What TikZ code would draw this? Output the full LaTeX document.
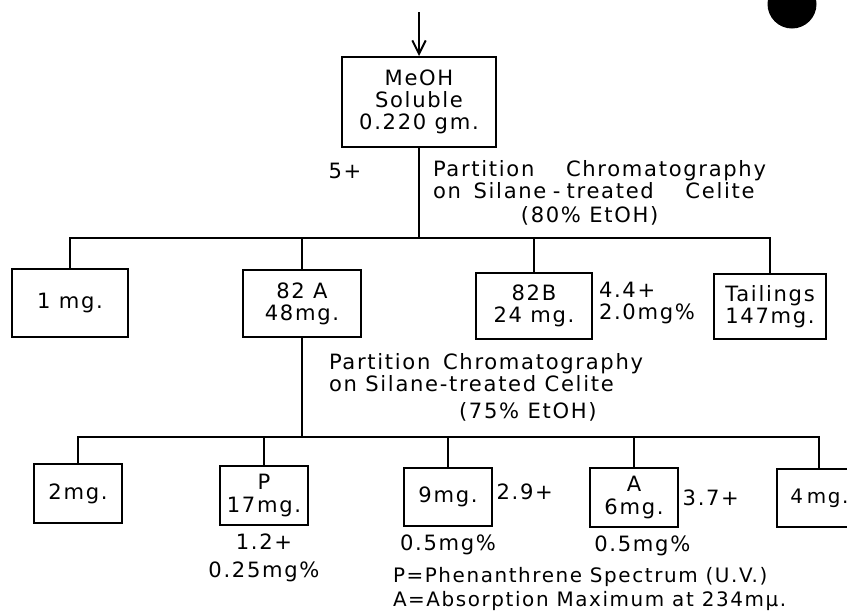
\documentclass[tikz,border=0pt]{standalone}
\usepackage{fontspec}
\setmainfont{DejaVu Sans}[LetterSpace=8]
\usetikzlibrary{arrows.meta, positioning}

\begin{document}
\begin{tikzpicture}[
    x=0.03cm, y=-0.03cm,
    line width=1.7pt,
    every node/.style={font=\fontsize{18}{19}\selectfont, inner sep=0pt},
    fracbox/.style={rectangle, draw, line width=1.7pt, align=center},
    note/.style={align=left},
    arrow/.style={-{Straight Barb[length=4mm, width=4mm]}, line width=1.7pt}
]
\clip (0,0) rectangle (847,611);

% starting fraction
\coordinate (feed) at (419,12);
\node[fracbox, minimum width=4.62cm, minimum height=2.7cm] (meoh) at (419,102) {MeOH\\Soluble\\0.220 gm.};
\draw[arrow] (feed) -- (meoh);

% first partition
\node at (345,171) (fivep) {5+};
\node[note, anchor=north west] (part1) at (432,159) {Partition\hspace{1.5em}Chromatography\\on\hspace{0.6em}Silane\hspace{0.3em}-\hspace{0.3em}treated\hspace{1.5em}Celite\\[2pt]\hspace*{75pt}(80\% EtOH)};
\node[fracbox, minimum width=3.48cm, minimum height=2.04cm] (one) at (70,303) {1 mg.};
\node[fracbox, minimum width=3.54cm, minimum height=2.01cm] (a82) at (302,303.5) {82 A\\48mg.};
\node[fracbox, minimum width=3.48cm, minimum height=1.98cm] (b82) at (534,306) {82B\\24 mg.};
\node[fracbox, minimum width=3.36cm, minimum height=1.95cm] (tail) at (770,306.5) {Tailings\\147mg.};
\node[note, right=0.15cm of b82, yshift=0.1cm] (b82val) {4.4+\\2.0mg\%};

\path (meoh.south) ++(0,90) coordinate (bar1);
\draw (meoh.south) -- (bar1);
\draw (one.north) |- (bar1) -| (tail.north);
\draw (a82.north) -- (a82.north |- bar1);
\draw (b82.north) -- (b82.north |- bar1);

% second partition
\node[note, anchor=north west] (part2) at (328,352) {Partition\hspace{0.6em}Chromatography\\on Silane-treated Celite\\[4pt]\hspace*{111pt}(75\% EtOH)};
\node[fracbox, minimum width=2.64cm, minimum height=1.77cm] (two) at (78,493.5) {2mg.};
\node[fracbox, minimum width=2.64cm, minimum height=1.77cm] (pfr) at (264,495.5) {P\\17mg.};
\node[fracbox, minimum width=2.64cm, minimum height=1.74cm] (nine) at (448,497) {9mg.};
\node[fracbox, minimum width=2.64cm, minimum height=1.77cm] (afr) at (634,497.5) {A\\6mg.};
\node[fracbox, minimum width=2.52cm, minimum height=1.74cm, text width=2.52cm, align=left,
      font=\fontsize{17}{19}\selectfont] (four) at (819,498) {\hspace*{0.4cm}4\hspace{0.2em}mg.};

\node[align=center, below=0.2cm of pfr] (pval) {1.2+\\[5pt]0.25mg\%};
\node[right=0.08cm of nine, yshift=0.15cm] (nineval) {2.9+};
\node[below=0.2cm of nine] (ninepct) {0.5mg\%};
\node[right=0.08cm of afr] (aval) {3.7+};
\node[below=0.2cm of afr, xshift=0.25cm] (apct) {0.5mg\%};

\path (a82.south) ++(0,99) coordinate (bar2);
\draw (a82.south) -- (bar2);
\draw (two.north) |- (bar2) -| (four.north);
\draw (pfr.north) -- (pfr.north |- bar2);
\draw (nine.north) -- (nine.north |- bar2);
\draw (afr.north) -- (afr.north |- bar2);

% key
\node[note, anchor=west, font=\fontsize{17}{20}\selectfont] (legend) at (392,589) {P=Phenanthrene Spectrum (U.V.)\\A=Absorption Maximum at 234mµ.};

% punch hole
\fill (792,4) circle (0.735cm);
\end{tikzpicture}
\end{document}
